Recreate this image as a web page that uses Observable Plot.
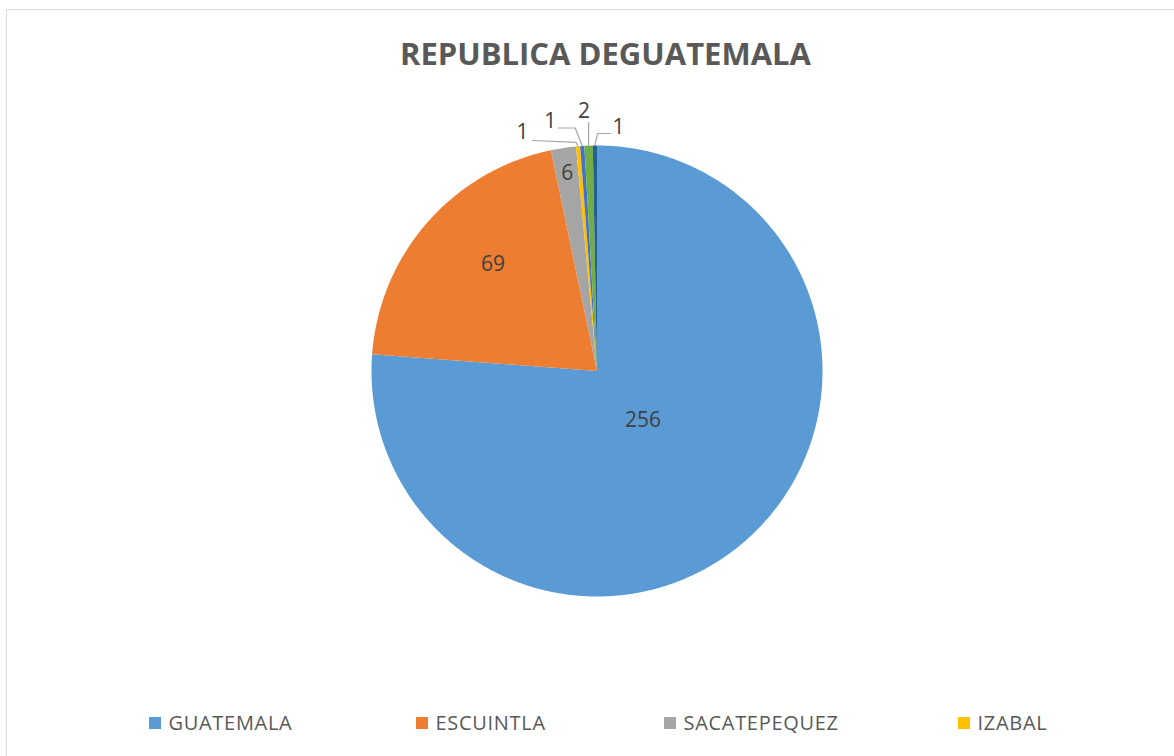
<!DOCTYPE html>
<html>
<head>
<meta charset="utf-8">
<script src="https://cdn.jsdelivr.net/npm/d3@7"></script>
<script src="https://cdn.jsdelivr.net/npm/@observablehq/plot@0.6"></script>
<style>
  html, body { margin: 0; padding: 0; background: #fff; }
  #wrap { position: relative; width: 1174px; height: 756px; overflow: hidden; }
  #border { position: absolute; left: 6px; top: 9px; width: 1180px; height: 780px; border: 1.5px solid #D9D9D9; box-sizing: border-box; }
  #chart { position: absolute; left: 0; top: 0; }
  svg text { font-family: "Open Sans", sans-serif; }
</style>
</head>
<body>
<div id="wrap"><div id="border"></div><div id="chart"></div></div>
<script>
// ---- data ----
const title = "REPUBLICA DEGUATEMALA";
const departments = ["GUATEMALA", "ESCUINTLA", "SACATEPEQUEZ", "IZABAL", "Serie 5", "Serie 6", "Serie 7"];
const counts = [256, 69, 6, 1, 1, 2, 1];
const colors = ["#5B9BD5", "#ED7D31", "#A5A5A5", "#FFC000", "#4472C4", "#70AD47", "#255E91"];
const legendItems = ["GUATEMALA", "ESCUINTLA", "SACATEPEQUEZ", "IZABAL"];

// ---- layout (code constants) ----
const W = 1174, H = 756;
const cx = 596.5, cy = 370.5, R = 225.5;
const total = d3.sum(counts);
const toXY = (ang, r) => [cx + r * Math.sin(ang), cy - r * Math.cos(ang)];

// build slices (clockwise from 12 o'clock)
let acc = 0;
const slices = counts.map((v, i) => {
  const a0 = acc / total * 2 * Math.PI;
  acc += v;
  const a1 = acc / total * 2 * Math.PI;
  return {name: departments[i], value: v, a0, a1, mid: (a0 + a1) / 2, i};
});

const polyRows = [];
for (const s of slices) {
  polyRows.push({name: s.name, x: cx, y: cy});
  const n = Math.max(2, Math.ceil((s.a1 - s.a0) / (Math.PI / 360)));
  for (let k = 0; k <= n; k++) {
    const a = s.a0 + (s.a1 - s.a0) * k / n;
    const [x, y] = toXY(a, R);
    polyRows.push({name: s.name, x, y});
  }
  polyRows.push({name: s.name, x: cx, y: cy});
}

// inside labels (radius fraction and angle shift per slice)
const insidePlace = {0: [0.30, 0], 1: [0.66, 4.4], 2: [0.885, 0]};
const insideLabels = slices.filter(s => s.i in insidePlace).map(s => {
  const [f, da] = insidePlace[s.i];
  const [x, y] = toXY(s.mid + da * Math.PI / 180, R * f);
  return {label: String(s.value), x, y};
});

// outside labels with leader lines (offsets from slice edge midpoint)
const outside = {
  3: {path: [[-2, -4], [-45.5, -5.8]], label: [-55.5, -14]},
  4: {path: [[-7, -18], [-24, -18]], label: [-32, -25]},
  5: {path: [[0, -23]], label: [-4.5, -34.5]},
  6: {path: [[2.6, -12], [15.6, -12]], label: [23.6, -18]}
};
const leaderRows = [], outsideLabels = [];
for (const s of slices) {
  const o = outside[s.i];
  if (!o) continue;
  const [ex, ey] = toXY(s.mid, R);
  leaderRows.push({k: s.name, x: ex, y: ey});
  for (const [dx, dy] of o.path) leaderRows.push({k: s.name, x: ex + dx, y: ey + dy});
  outsideLabels.push({label: String(s.value), x: ex + o.label[0], y: ey + o.label[1]});
}

// legend
const legendX = [149, 416, 664, 958];
const legendRows = legendItems.map((name, i) => ({name, x: legendX[i], y: 723}));

const chart = Plot.plot({
  width: W, height: H,
  margin: 0,
  x: {domain: [0, W], range: [0, W], axis: null},
  y: {domain: [0, H], range: [0, H], axis: null},
  color: {domain: departments, range: colors},
  marks: [
    Plot.line(polyRows, {x: "x", y: "y", z: "name", fill: "name", stroke: null, curve: "linear"}),
    Plot.line(leaderRows, {x: "x", y: "y", z: "k", stroke: "#A6A6A6", strokeWidth: 1.2, curve: "linear"}),
    Plot.text(insideLabels, {x: "x", y: "y", text: "label", fontSize: 21, fill: "#404040"}),
    Plot.text(outsideLabels, {x: "x", y: "y", text: "label", fontSize: 21, fill: "#404040"}),
    Plot.text([title], {frameAnchor: "top", lineAnchor: "middle", dx: 18, dy: 55, text: d => d, fontSize: 31, fontWeight: "bold", fill: "#595959"}),
    Plot.rect(legendRows, {x1: "x", x2: d => d.x + 12, y1: d => d.y - 6, y2: d => d.y + 6, fill: "name"}),
    Plot.text(legendRows, {x: d => d.x + 19, y: "y", text: "name", textAnchor: "start", fontSize: 20, fill: "#595959"})
  ]
});
d3.select(chart).selectAll("text")
  .filter(function () { return legendItems.includes(this.textContent); })
  .attr("letter-spacing", 0.7);
document.getElementById("chart").appendChild(chart);
</script>
</body>
</html>
